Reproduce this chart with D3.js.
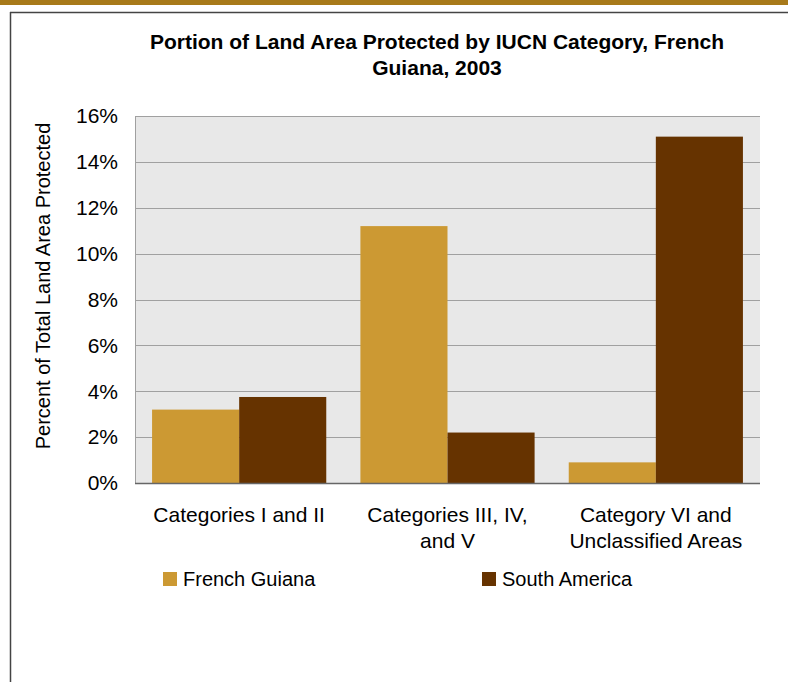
<!DOCTYPE html>
<html>
<head>
<meta charset="utf-8">
<script src="https://cdn.jsdelivr.net/npm/d3@7"></script>
<style>
  html, body { margin: 0; padding: 0; background: #fff; }
  svg { display: block; font-family: "Liberation Sans", Arial, sans-serif; }
</style>
</head>
<body>
<script>
const categories = [["Categories I and II"], ["Categories III, IV,", "and V"], ["Category VI and", "Unclassified Areas"]];
const seriesNames = ["French Guiana", "South America"];
const frenchGuiana = [3.2, 11.2, 0.9];
const southAmerica = [3.75, 2.2, 15.1];
const yTicks = [0, 2, 4, 6, 8, 10, 12, 14, 16];
const colors = ["#CC9933", "#663300"];

const W = 788, H = 682;
const svg = d3.select("body").append("svg").attr("width", W).attr("height", H);

// slide frame
svg.append("rect").attr("x", 0).attr("y", 0).attr("width", W).attr("height", 5).attr("fill", "#A87A1A");
svg.append("line").attr("x1", 10.5).attr("y1", 12).attr("x2", 10.5).attr("y2", H)
    .attr("stroke", "#444").attr("stroke-width", 1.5);
svg.append("line").attr("x1", 10).attr("y1", 12.5).attr("x2", W).attr("y2", 12.5)
    .attr("stroke", "#444").attr("stroke-width", 1.5);

const plot = {left: 135, top: 116, right: 760, bottom: 483};

const x0 = d3.scaleBand().domain(d3.range(categories.length))
    .range([plot.left, plot.right]).paddingInner(0).paddingOuter(0);
const x1 = d3.scaleBand().domain([0, 1]).range([0, x0.bandwidth()]).paddingOuter(0.196).paddingInner(0);
const y = d3.scaleLinear().domain([0, 16]).range([plot.bottom, plot.top]);

svg.append("rect").attr("x", plot.left).attr("y", plot.top)
    .attr("width", plot.right - plot.left).attr("height", plot.bottom - plot.top)
    .attr("fill", "#E8E8E8");

// gridlines
svg.append("g").selectAll("line").data(yTicks.slice(1)).enter().append("line")
    .attr("x1", plot.left).attr("x2", plot.right)
    .attr("y1", d => Math.round(y(d)) + 0.5).attr("y2", d => Math.round(y(d)) + 0.5)
    .attr("stroke", "#A0A0A0").attr("stroke-width", 1);

// left axis line
svg.append("line").attr("x1", plot.left + 0.5).attr("x2", plot.left + 0.5)
    .attr("y1", plot.top).attr("y2", plot.bottom).attr("stroke", "#A0A0A0");

// bars
const data = categories.map((c, i) => [frenchGuiana[i], southAmerica[i]]);
const groups = svg.append("g").selectAll("g").data(data).enter().append("g")
    .attr("transform", (d, i) => `translate(${x0(i)},0)`);
groups.selectAll("rect").data(d => d).enter().append("rect")
    .attr("x", (d, j) => x1(j)).attr("width", x1.bandwidth())
    .attr("y", d => y(d)).attr("height", d => y(0) - y(d))
    .attr("fill", (d, j) => colors[j]);

// baseline
svg.append("line").attr("x1", plot.left).attr("x2", plot.right)
    .attr("y1", plot.bottom + 0.5).attr("y2", plot.bottom + 0.5)
    .attr("stroke", "#666").attr("stroke-width", 1.5);

// y tick labels
svg.append("g").selectAll("text").data(yTicks).enter().append("text")
    .attr("x", 118).attr("y", d => y(d)).attr("dy", "0.35em")
    .attr("text-anchor", "end").attr("font-size", 21).attr("fill", "#000")
    .text(d => d + "%");

// y axis title
svg.append("text").attr("transform", `translate(50,286) rotate(-90)`)
    .attr("text-anchor", "middle").attr("font-size", 20).text("Percent of Total Land Area Protected");

// category labels
const cl = svg.append("g").selectAll("text").data(categories).enter().append("text")
    .attr("x", (d, i) => x0(i) + x0.bandwidth() / 2).attr("y", 522)
    .attr("text-anchor", "middle").attr("font-size", 21);
cl.selectAll("tspan").data(d => d).enter().append("tspan")
    .attr("x", function() { return this.parentNode.getAttribute("x"); })
    .attr("dy", (d, i) => i === 0 ? 0 : 26).text(d => d);

// title
const title = svg.append("text").attr("x", 437).attr("y", 49).attr("text-anchor", "middle")
    .attr("font-size", 21).attr("font-weight", "bold");
title.append("tspan").attr("x", 437).text("Portion of Land Area Protected by IUCN Category, French");
title.append("tspan").attr("x", 437).attr("dy", 26).text("Guiana, 2003");

// legend
const legX = [163, 482];
const leg = svg.append("g").selectAll("g").data(seriesNames).enter().append("g")
    .attr("transform", (d, i) => `translate(${legX[i]},579)`);
leg.append("rect").attr("x", 0).attr("y", -7).attr("width", 14).attr("height", 14)
    .attr("fill", (d, i) => colors[i]);
leg.append("text").attr("x", 20).attr("y", 0).attr("dy", "0.35em").attr("font-size", 20).text(d => d);
</script>
</body>
</html>
